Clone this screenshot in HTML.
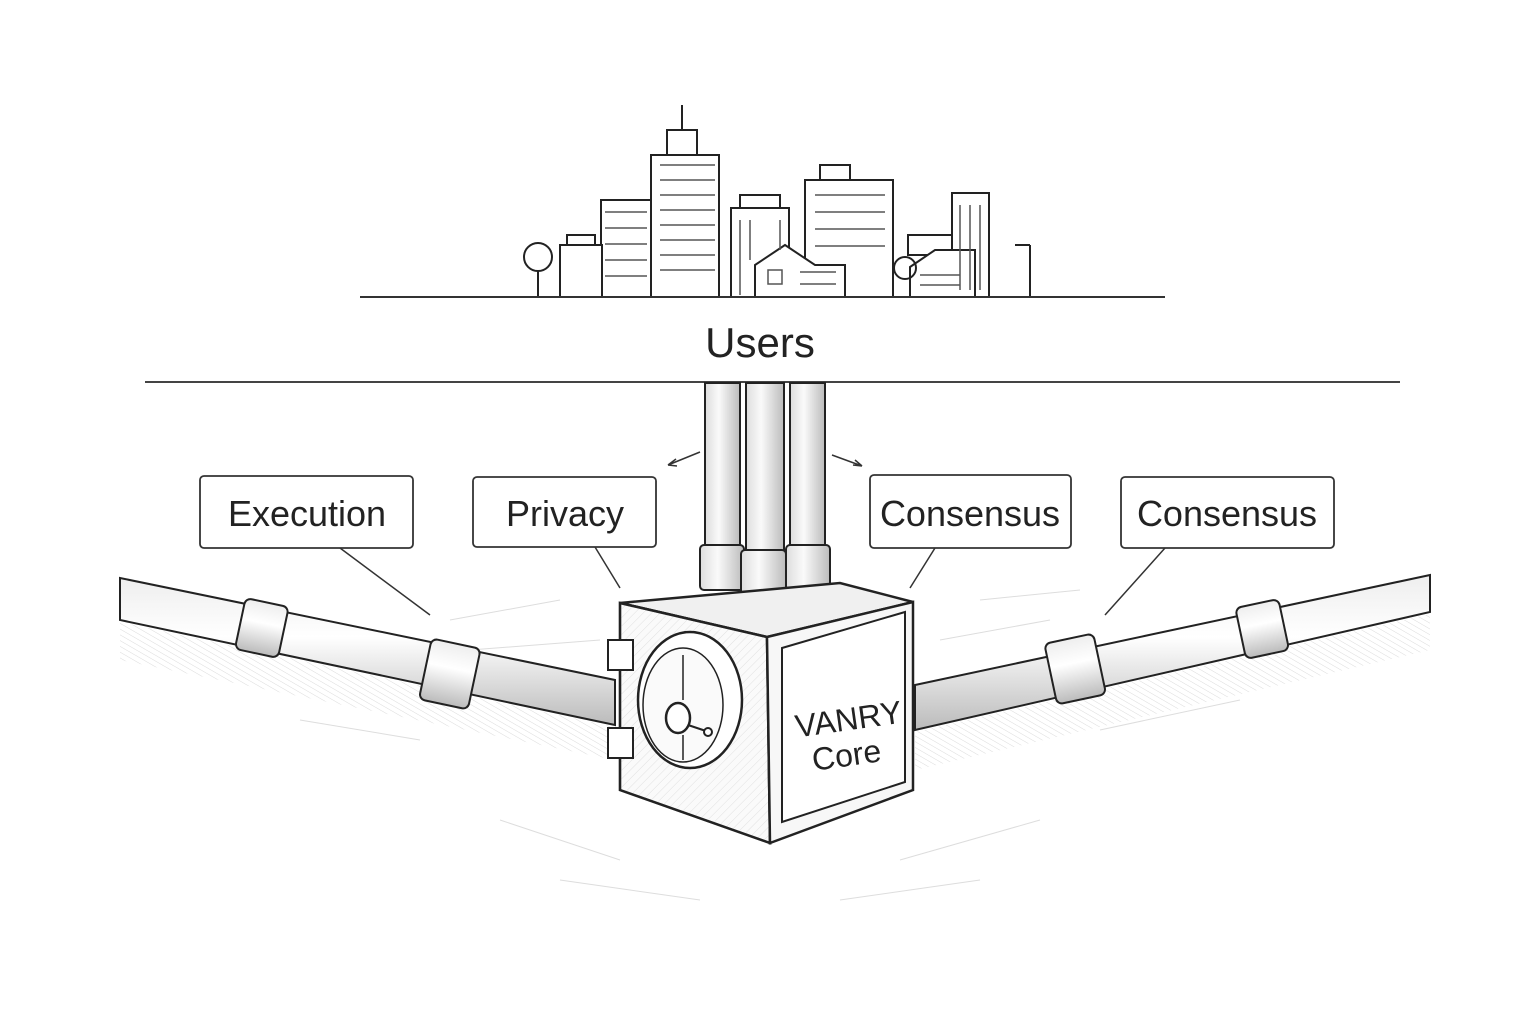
<!DOCTYPE html>
<html><head><meta charset="utf-8"><style>
html,body{margin:0;padding:0;background:#fff}
svg{display:block}
text{font-family:"Liberation Sans",sans-serif;fill:#222}
</style></head><body>
<svg width="1536" height="1024" viewBox="0 0 1536 1024" xmlns="http://www.w3.org/2000/svg">
<defs>
<pattern id="h" width="6" height="6" patternUnits="userSpaceOnUse" patternTransform="rotate(45)"><line x1="0" y1="0" x2="0" y2="6" stroke="#bbb" stroke-width="1"/></pattern>
<pattern id="hf" width="5" height="5" patternUnits="userSpaceOnUse" patternTransform="rotate(-60)"><line x1="0" y1="0" x2="0" y2="5" stroke="#ccc" stroke-width="1"/></pattern>
<linearGradient id="pv" x1="0" x2="1"><stop offset="0" stop-color="#ddd"/><stop offset="0.4" stop-color="#fafafa"/><stop offset="1" stop-color="#bbb"/></linearGradient>
<linearGradient id="ph" x1="0" y1="0" x2="0" y2="1"><stop offset="0" stop-color="#eee"/><stop offset="0.4" stop-color="#fff"/><stop offset="1" stop-color="#bbb"/></linearGradient>
</defs>
<!-- floor hatching under pipes -->
<polygon points="120,622 615,727 615,760 120,660" fill="url(#hf)" opacity="0.7"/>
<polygon points="915,732 1430,614 1430,650 915,770" fill="url(#hf)" opacity="0.7"/>
<g stroke="#ddd" stroke-width="1" fill="none">
<path d="M450,620 L560,600 M470,650 L600,640 M940,640 L1050,620 M980,600 L1080,590 M300,720 L420,740 M1100,730 L1240,700 M500,820 L620,860 M900,860 L1040,820 M560,880 L700,900 M840,900 L980,880"/>
</g>
<!-- city -->
<g stroke="#222" stroke-width="2" fill="#fff">
<rect x="651" y="155" width="68" height="142"/><rect x="667" y="130" width="30" height="25"/><line x1="682" y1="105" x2="682" y2="130"/>
<rect x="601" y="200" width="50" height="97"/>
<rect x="560" y="245" width="42" height="52"/><rect x="567" y="235" width="28" height="10"/>
<rect x="731" y="208" width="58" height="89"/><rect x="740" y="195" width="40" height="13"/>
<rect x="805" y="180" width="88" height="117"/><rect x="820" y="165" width="30" height="15"/>
<rect x="952" y="193" width="37" height="104"/>
<rect x="908" y="235" width="44" height="20"/>
<polygon points="755,265 785,245 815,265 845,265 845,297 755,297"/>
<polygon points="910,267 935,250 975,250 975,297 910,297"/>
</g>
<g fill="none" stroke="#555" stroke-width="1.5">
<path d="M660,165 h55 M660,180 h55 M660,195 h55 M660,210 h55 M660,225 h55 M660,240 h55 M660,255 h55 M660,270 h55 M605,212 h42 M605,228 h42 M605,244 h42 M605,260 h42 M605,276 h42 M815,195 h70 M815,212 h70 M815,229 h70 M815,246 h70 M740,220 v75 M750,220 v40 M780,220 v30 M960,205 v85 M970,205 v85 M980,205 v85 M768,270 h14 v14 h-14z M800,272 h36 M800,284 h36 M920,275 h40 M920,285 h40"/>
</g>
<g stroke="#222" stroke-width="2" fill="none"><circle cx="538" cy="257" r="14"/><line x1="538" y1="270" x2="538" y2="297"/><circle cx="905" cy="268" r="11"/><line x1="1030" y1="245" x2="1030" y2="297"/><path d="M1030,245 h-15"/></g>
<line x1="360" y1="297" x2="1165" y2="297" stroke="#333" stroke-width="2"/>
<text x="760" y="357" font-size="42" text-anchor="middle">Users</text>
<line x1="145" y1="382" x2="1400" y2="382" stroke="#444" stroke-width="2"/>
<!-- vertical pipes -->
<g stroke="#222" stroke-width="2">
<rect x="705" y="383" width="35" height="165" fill="url(#pv)"/>
<rect x="790" y="383" width="35" height="165" fill="url(#pv)"/>
<rect x="746" y="383" width="38" height="170" fill="url(#pv)"/>
<rect x="700" y="545" width="44" height="45" rx="4" fill="url(#pv)"/>
<rect x="786" y="545" width="44" height="45" rx="4" fill="url(#pv)"/>
<rect x="741" y="550" width="45" height="50" rx="4" fill="url(#pv)"/>
</g>
<!-- arrows -->
<g stroke="#333" stroke-width="1.5" fill="none"><path d="M700,452 L668,465 M668,465 l8,-6 M668,465 l9,1"/><path d="M832,455 L862,466 M862,466 l-9,-1 M862,466 l-7,-6"/></g>
<!-- horizontal pipes -->
<g stroke="#222" stroke-width="2">
<polygon points="120,578 615,680 615,725 120,620" fill="url(#ph)"/>
<polygon points="915,685 1430,575 1430,612 915,730" fill="url(#ph)"/>
<rect x="-22" y="-25" width="44" height="52" rx="6" fill="url(#ph)" transform="translate(262,627) rotate(12)"/>
<rect x="-25" y="-30" width="50" height="62" rx="6" fill="url(#ph)" transform="translate(450,673) rotate(12)"/>
<rect x="-25" y="-30" width="50" height="62" rx="6" fill="url(#ph)" transform="translate(1075,668) rotate(-12)"/>
<rect x="-22" y="-25" width="44" height="52" rx="6" fill="url(#ph)" transform="translate(1262,628) rotate(-12)"/>
</g>
<!-- cube -->
<g stroke="#222" stroke-width="2.5">
<polygon points="620,603 840,583 913,602 767,637" fill="#f0f0f0"/>
<polygon points="620,603 767,637 770,843 620,790" fill="#fafafa"/>
<polygon points="620,603 767,637 770,843 620,790" fill="url(#h)" opacity="0.4"/>
<polygon points="767,637 913,602 913,790 770,843" fill="#f7f7f7"/>
<polygon points="782,648 905,612 905,782 782,822" fill="#fff" stroke-width="2"/>
<ellipse cx="690" cy="700" rx="52" ry="68" fill="#fff"/>
<ellipse cx="683" cy="705" rx="40" ry="57" fill="#fafafa" stroke-width="1.5"/>
<ellipse cx="678" cy="718" rx="12" ry="15" fill="#fff"/>
<rect x="608" y="640" width="25" height="30" fill="#fff" stroke-width="2"/>
<rect x="608" y="728" width="25" height="30" fill="#fff" stroke-width="2"/>
</g>
<line x1="683" y1="655" x2="683" y2="700" stroke="#222" stroke-width="1.5"/><line x1="683" y1="735" x2="683" y2="760" stroke="#222" stroke-width="1.5"/><line x1="688" y1="725" x2="706" y2="731" stroke="#222" stroke-width="2"/><circle cx="708" cy="732" r="4" fill="#fff" stroke="#222" stroke-width="2"/>
<text x="850" y="730" font-size="32" text-anchor="middle" transform="rotate(-8 850 730)">VANRY</text>
<text x="848" y="766" font-size="32" text-anchor="middle" transform="rotate(-8 848 766)">Core</text>
<!-- leader lines -->
<g stroke="#333" stroke-width="1.5" fill="none">
<path d="M340,548 L430,615"/><path d="M595,547 L620,588"/><path d="M935,548 L910,588"/><path d="M1165,548 L1105,615"/>
</g>
<!-- labels -->
<g stroke="#333" stroke-width="1.8" fill="#fff">
<rect x="200" y="476" width="213" height="72" rx="4"/>
<rect x="473" y="477" width="183" height="70" rx="4"/>
<rect x="870" y="475" width="201" height="73" rx="4"/>
<rect x="1121" y="477" width="213" height="71" rx="4"/>
</g>
<g font-size="36" text-anchor="middle">
<text x="307" y="526">Execution</text>
<text x="565" y="526">Privacy</text>
<text x="970" y="526">Consensus</text>
<text x="1227" y="526">Consensus</text>
</g>
</svg>
</body></html>
